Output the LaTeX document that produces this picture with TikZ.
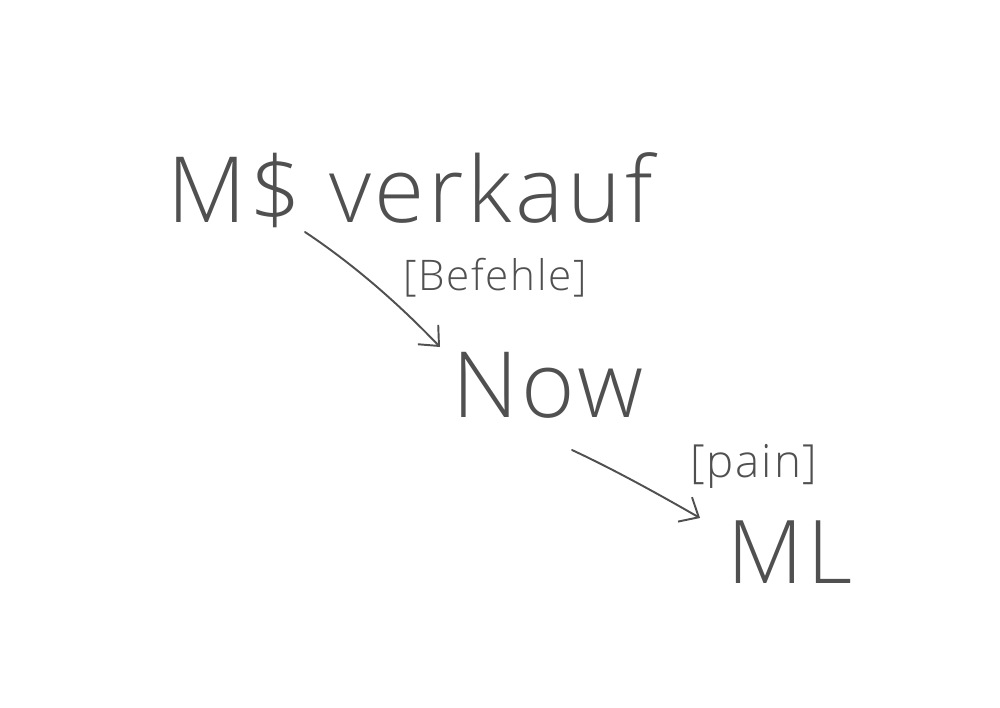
\documentclass[tikz,border=0pt]{standalone}
\usepackage{fontspec}
\setmainfont{Open Sans}
\usetikzlibrary{arrows.meta}
\definecolor{ink}{HTML}{505050}
\tikzset{
  px/.style={x=0.02cm,y=-0.02cm},
  hw/.style={text=ink, inner sep=0pt},
  conn/.style={draw=ink, line width=1.1pt, line cap=round, -{Straight Barb[length=9pt,width=16pt,line width=1.1pt]}}
}
\newfontfamily\hwfont[LetterSpace=4]{Open Sans Light}
\begin{document}
\begin{tikzpicture}[px]
\useasboundingbox (0,0) rectangle (1000,707);
\fill[white] (0,0) rectangle (1000,707);
\node[hw, font=\hwfont\fontsize{52}{52}\selectfont] (mv) at (410,190) {M\$ verkauf};
\node[hw, font=\hwfont\fontsize{24}{24}\selectfont] (bef) at (495,278) {[Befehle]};
\node[hw, font=\hwfont\fontsize{52}{52}\selectfont] (now) at (548,385) {Now};
\node[hw, font=\hwfont\fontsize{26}{26}\selectfont] (pain) at (754,466) {[pain]};
\node[hw, font=\hwfont\fontsize{50}{50}\selectfont] (ml) at (790,552) {ML};
\coordinate (a1s) at (305,232);
\coordinate (a1e) at (440,347);
\coordinate (a2s) at (572,450);
\coordinate (a2e) at (700,518);
\draw[conn] (a1s) .. controls (350,262) and (395,300) .. (a1e);
\draw[conn] (a2s) .. controls (615,470) and (660,495) .. (a2e);
\end{tikzpicture}
\end{document}
